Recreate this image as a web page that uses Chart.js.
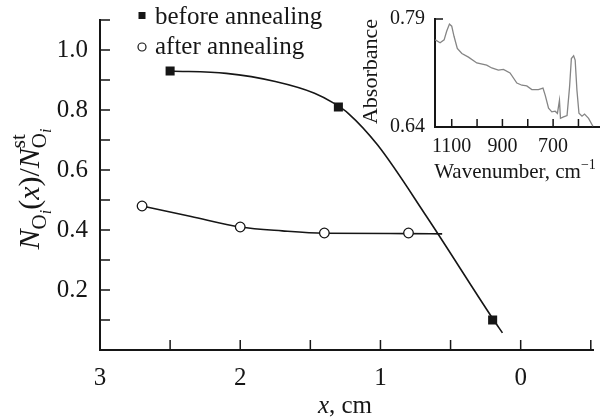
<!DOCTYPE html>
<html>
<head>
<meta charset="utf-8">
<title>O_i profile before and after annealing</title>
<script src="https://cdn.jsdelivr.net/npm/chart.js@4.4.1/dist/chart.umd.min.js"></script>
<style>
  html, body { margin: 0; padding: 0; background: #fff; }
  #wrap { position: relative; width: 600px; height: 420px; }
  #main { position: absolute; left: 0; top: 0; }
  #inset { position: absolute; left: 360px; top: 0; }
</style>
</head>
<body>
<div id="wrap">
  <canvas id="main" width="600" height="420"></canvas>
  <canvas id="inset" width="240" height="190"></canvas>
</div>
<script>
// main plot: normalised O_i concentration vs distance
const X_TICKS = [3, 2.5, 2, 1.5, 1, 0.5, 0, -0.5];
const X_LABELS = ["3", "", "2", "", "1", "", "0", ""];
const Y_TICKS = [0, 0.1, 0.2, 0.3, 0.4, 0.5, 0.6, 0.7, 0.8, 0.9, 1.0, 1.1];
const Y_LABELS = ["", "", "0.2", "", "0.4", "", "0.6", "", "0.8", "", "1.0", ""];

const beforeX = [2.5, 1.3, 0.2];
const beforeY = [0.93, 0.81, 0.10];
const afterX = [2.7, 2.0, 1.4, 0.8];
const afterY = [0.48, 0.41, 0.39, 0.39];

// fitted curves as drawn in the figure
const beforeFitX = [2.5, 2.1, 1.75, 1.47, 1.33, 1.23, 1.02, 0.67, 0.2, 0.13];
const beforeFitY = [0.93, 0.922, 0.895, 0.856, 0.822, 0.789, 0.683, 0.444, 0.105, 0.057];
const afterFitX = [2.7, 2.35, 2.0, 1.7, 1.4, 0.8, 0.56];
const afterFitY = [0.48, 0.445, 0.41, 0.397, 0.389, 0.388, 0.387];

// inset: IR absorbance spectrum
const INSET_X_TICKS = [1100, 1000, 900, 800, 700, 600];
const INSET_X_LABELS = ["1100", "", "900", "", "700", ""];
const INSET_Y_TICKS = [0.64, 0.79];
const INSET_Y_LABELS = ["0.64", "0.79"];
const wavenumber = [1165, 1146, 1130, 1120, 1109, 1100, 1091, 1078, 1060, 1034, 1001, 962, 942, 916, 896,
  870, 843, 823, 804, 784, 758, 740, 731, 718, 705, 692, 683, 675, 671, 659, 645, 635, 628, 619, 613,
  606, 598, 586, 576, 560, 543];
const absorbance = [0.761, 0.757, 0.761, 0.773, 0.783, 0.780, 0.766, 0.749, 0.742, 0.737, 0.729, 0.726,
  0.722, 0.719, 0.720, 0.715, 0.701, 0.698, 0.697, 0.692, 0.692, 0.694, 0.684, 0.666, 0.661, 0.662,
  0.659, 0.677, 0.652, 0.654, 0.656, 0.696, 0.735, 0.739, 0.733, 0.691, 0.659, 0.655, 0.658, 0.652, 0.641];

const INK = "#161616";
const SERIF = '"Liberation Serif", "DejaVu Serif", serif';
const TICK_LEN = 10;

const zip = (xs, ys) => xs.map((x, i) => ({ x, y: ys[i] }));
const font = (size, style = "normal") => `${style} ${size}px ${SERIF}`;

// fixed axis box, no extra label padding pushed into the layout
const fixBox = (size) => (s) => {
  if (s.isHorizontal()) s.height = size; else s.width = size;
  s.paddingLeft = 0;
  s.paddingRight = 0;
  s.paddingTop = 0;
  s.paddingBottom = 0;
};

// draw a run of text pieces with their own font and baseline shift
function drawRuns(ctx, runs, x, y) {
  let cx = x;
  runs.forEach((r) => {
    ctx.font = r.font;
    ctx.fillText(r.text, cx, y + (r.dy || 0));
    if (!r.noAdvance) cx += ctx.measureText(r.text).width;
  });
  return cx - x;
}
function measureRuns(ctx, runs) {
  let w = 0;
  runs.forEach((r) => {
    ctx.font = r.font;
    if (!r.noAdvance) w += ctx.measureText(r.text).width;
  });
  return w;
}

const mainDecor = {
  id: "mainDecor",
  afterDraw(chart) {
    const { ctx, chartArea } = chart;
    const { x, y } = chart.scales;
    ctx.save();
    ctx.strokeStyle = INK;
    ctx.fillStyle = INK;
    ctx.lineWidth = 1.5;

    // inward ticks
    ctx.beginPath();
    x.ticks.forEach((t) => {
      const px = x.getPixelForValue(t.value);
      ctx.moveTo(px, chartArea.bottom);
      ctx.lineTo(px, chartArea.bottom - TICK_LEN);
    });
    y.ticks.forEach((t) => {
      const py = y.getPixelForValue(t.value);
      ctx.moveTo(chartArea.left, py);
      ctx.lineTo(chartArea.left + TICK_LEN, py);
    });
    ctx.stroke();

    // y title: N_{O_i}(x) / N_{O_i}^{st}
    const titleRuns = [
      { text: "N", font: font(30, "italic") },
      { text: "O", font: font(21), dy: 7 },
      { text: "i", font: font(16, "italic"), dy: 12 },
      { text: "(", font: font(30) },
      { text: "x", font: font(30, "italic") },
      { text: ")/", font: font(30) },
      { text: "N", font: font(30, "italic") },
      { text: "st", font: font(21), dy: -14, noAdvance: true },
      { text: "O", font: font(21), dy: 7 },
      { text: "i", font: font(16, "italic"), dy: 12 },
    ];
    ctx.textBaseline = "alphabetic";
    ctx.textAlign = "left";
    const tw = measureRuns(ctx, titleRuns);
    ctx.save();
    ctx.translate(39, 189);
    ctx.rotate(-Math.PI / 2);
    drawRuns(ctx, titleRuns, -tw / 2, 0);
    ctx.restore();

    // x title: x, cm
    const xRuns = [
      { text: "x", font: font(25, "italic") },
      { text: ", cm", font: font(25) },
    ];
    const xw = measureRuns(ctx, xRuns);
    drawRuns(ctx, xRuns, 345 - xw / 2, 413);

    // legend in the upper left of the plot
    const ds = chart.data.datasets;
    ctx.textBaseline = "middle";
    ctx.font = font(25);
    ctx.fillRect(138.5, 12, 7, 7);
    ctx.fillText(ds[0].label, 155, 17);
    ctx.beginPath();
    ctx.arc(142, 47, 4, 0, Math.PI * 2);
    ctx.fillStyle = "#fff";
    ctx.fill();
    ctx.lineWidth = 1.2;
    ctx.stroke();
    ctx.fillStyle = INK;
    ctx.fillText(ds[1].label, 155, 47);
    ctx.restore();
  },
};

new Chart(document.getElementById("main"), {
  type: "line",
  data: {
    datasets: [
      {
        label: "before annealing",
        data: zip(beforeX, beforeY),
        showLine: false,
        pointStyle: "rect",
        pointRadius: 6.4,
        backgroundColor: INK,
        borderColor: INK,
        borderWidth: 0,
      },
      {
        label: "after annealing",
        data: zip(afterX, afterY),
        showLine: false,
        pointStyle: "circle",
        pointRadius: 4.8,
        backgroundColor: "#fff",
        borderColor: INK,
        borderWidth: 1.3,
      },
      {
        label: "before annealing fit",
        data: zip(beforeFitX, beforeFitY),
        pointRadius: 0,
        borderColor: INK,
        borderWidth: 1.6,
        cubicInterpolationMode: "monotone",
        fill: false,
      },
      {
        label: "after annealing fit",
        data: zip(afterFitX, afterFitY),
        pointRadius: 0,
        borderColor: INK,
        borderWidth: 1.6,
        cubicInterpolationMode: "monotone",
        fill: false,
      },
    ],
  },
  options: {
    responsive: false,
    animation: false,
    layout: { padding: { top: 20, right: 2, left: 0, bottom: 0 } },
    plugins: { legend: { display: false }, tooltip: { enabled: false } },
    scales: {
      x: {
        type: "linear",
        reverse: true,
        min: -0.52,
        max: 3,
        afterBuildTicks: (s) => { s.ticks = X_TICKS.map((v) => ({ value: v })); },
        afterFit: fixBox(70),
        grid: { display: false, drawTicks: false },
        border: { display: true, color: INK, width: 2 },
        ticks: {
          autoSkip: false,
          maxRotation: 0,
          padding: 13,
          color: INK,
          font: { family: SERIF, size: 25 },
          callback: (v, i) => X_LABELS[i],
        },
      },
      y: {
        type: "linear",
        min: 0,
        max: 1.1,
        afterBuildTicks: (s) => { s.ticks = Y_TICKS.map((v) => ({ value: v })); },
        afterFit: fixBox(100),
        grid: { display: false, drawTicks: false },
        border: { display: true, color: INK, width: 2 },
        ticks: {
          autoSkip: false,
          padding: 12,
          color: INK,
          font: { family: SERIF, size: 25 },
          callback: (v, i) => Y_LABELS[i],
        },
      },
    },
  },
  plugins: [mainDecor],
});

const insetDecor = {
  id: "insetDecor",
  afterDraw(chart) {
    const { ctx, chartArea } = chart;
    const { x, y } = chart.scales;
    ctx.save();
    ctx.strokeStyle = INK;
    ctx.fillStyle = INK;
    ctx.lineWidth = 1.5;
    ctx.beginPath();
    x.ticks.forEach((t) => {
      const px = x.getPixelForValue(t.value);
      ctx.moveTo(px, chartArea.bottom);
      ctx.lineTo(px, chartArea.bottom - 8);
    });
    y.ticks.forEach((t) => {
      const py = y.getPixelForValue(t.value);
      ctx.moveTo(chartArea.left, py);
      ctx.lineTo(chartArea.left + 8, py);
    });
    ctx.stroke();

    // axis titles
    ctx.textBaseline = "alphabetic";
    const wRuns = [
      { text: "Wavenumber, cm", font: font(21) },
      { text: "\u22121", font: font(14), dy: -9 },
    ];
    const ww = measureRuns(ctx, wRuns);
    drawRuns(ctx, wRuns, 155 - ww / 2, 178);

    ctx.save();
    ctx.translate(17, 0);
    ctx.rotate(-Math.PI / 2);
    ctx.textAlign = "right";
    ctx.font = font(22);
    ctx.fillText("Absorbance", -19, 0);
    ctx.restore();
    ctx.restore();
  },
};

new Chart(document.getElementById("inset"), {
  type: "line",
  data: {
    datasets: [
      {
        label: "Absorbance",
        data: zip(wavenumber, absorbance),
        pointRadius: 0,
        borderColor: "#858585",
        borderWidth: 1.3,
        tension: 0,
        fill: false,
      },
    ],
  },
  options: {
    responsive: false,
    animation: false,
    layout: { padding: { top: 19, right: 0, left: 0, bottom: 0 } },
    plugins: { legend: { display: false }, tooltip: { enabled: false } },
    scales: {
      x: {
        type: "linear",
        reverse: true,
        min: 515,
        max: 1166,
        afterBuildTicks: (s) => { s.ticks = INSET_X_TICKS.map((v) => ({ value: v })); },
        afterFit: fixBox(63),
        grid: { display: false, drawTicks: false },
        border: { display: true, color: INK, width: 2 },
        ticks: {
          autoSkip: false,
          maxRotation: 0,
          padding: 8,
          color: INK,
          font: { family: SERIF, size: 20 },
          callback: (v, i) => INSET_X_LABELS[i],
        },
      },
      y: {
        type: "linear",
        min: 0.64,
        max: 0.79,
        afterBuildTicks: (s) => { s.ticks = INSET_Y_TICKS.map((v) => ({ value: v })); },
        afterFit: fixBox(75),
        grid: { display: false, drawTicks: false },
        border: { display: true, color: INK, width: 2 },
        ticks: {
          autoSkip: false,
          padding: 10,
          color: INK,
          font: { family: SERIF, size: 20 },
          callback: (v, i) => INSET_Y_LABELS[i],
        },
      },
    },
  },
  plugins: [insetDecor],
});
</script>
</body>
</html>
